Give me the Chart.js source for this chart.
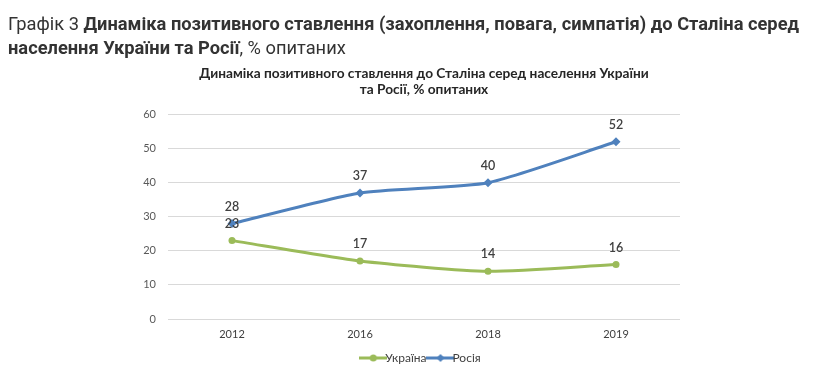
<!DOCTYPE html>
<html><head><meta charset="utf-8">
<script src="https://cdn.jsdelivr.net/npm/chart.js@4"></script>
<style>
html,body{margin:0;padding:0;background:#fff;}
#wrap{position:relative;width:816px;height:387px;overflow:hidden;}
#hdr{position:absolute;left:8px;top:12px;width:808px;font-family:Roboto,"Liberation Sans",sans-serif;font-size:18.3px;line-height:24px;color:#333;letter-spacing:0px;}
#hdr b{font-weight:bold;}
#c{position:absolute;left:0;top:0;}
</style></head>
<body><div id="wrap">
<canvas id="c" width="816" height="387"></canvas>
<div id="hdr">Графік 3 <b>Динаміка позитивного ставлення (захоплення, повага, симпатія) до Сталіна серед населення України та Росії</b>, % опитаних</div>
</div>
<script>
const categories = ['2012','2016','2018','2019'];
const ukraine = [23,17,14,16];
const russia = [28,37,40,52];
const yTicks = [0,10,20,30,40,50,60];

const GREEN = '#9bbb59', BLUE = '#4f81bd';
const FONT = 'Lato, "Open Sans", sans-serif';

function legendIcon(color, style){
  const c = document.createElement('canvas');
  c.width = 28; c.height = 10;
  const x = c.getContext('2d');
  x.strokeStyle = color; x.lineWidth = 3;
  x.beginPath(); x.moveTo(0,5); x.lineTo(28,5); x.stroke();
  x.fillStyle = color;
  x.beginPath();
  if(style==='diamond'){ x.moveTo(14,1); x.lineTo(18,5); x.lineTo(14,9); x.lineTo(10,5); x.closePath(); }
  else { x.arc(14,5,3.5,0,Math.PI*2); }
  x.fill();
  return c;
}

const labelPlugin = {
  id:'valueLabels',
  afterDatasetsDraw(chart){
    const ctx = chart.ctx;
    ctx.save();
    ctx.font = '600 12.5px ' + FONT;
    ctx.fillStyle = '#404040';
    ctx.textAlign = 'center';
    ctx.textBaseline = 'middle';
    chart.data.datasets.forEach((ds,i)=>{
      const meta = chart.getDatasetMeta(i);
      meta.data.forEach((pt,j)=>{
        ctx.fillText(String(ds.data[j]), pt.x, pt.y - 17);
      });
    });
    ctx.restore();
  }
};

new Chart(document.getElementById('c'), {
  type:'line',
  data:{
    labels: categories,
    datasets:[
      {label:'Україна', data: ukraine, borderColor: GREEN, backgroundColor: GREEN, borderWidth:3,
       pointStyle:'circle', pointRadius:3.5, pointHoverRadius:3.5, tension:0.2, pointBorderWidth:0},
      {label:'Росія', data: russia, borderColor: BLUE, backgroundColor: BLUE, borderWidth:3,
       pointStyle:'rectRot', pointRadius:4.5, pointHoverRadius:4.5, tension:0.2, pointBorderWidth:0}
    ]
  },
  options:{
    responsive:false, animation:false, events:[],
    layout:{padding:{left:100, right:136, top:66, bottom:13}},
    plugins:{
      title:{display:true, fullSize:false, text:['Динаміка позитивного ставлення до Сталіна серед населення України','та Росії, % опитаних'],
        color:'#262626', font:{family:FONT, size:13.7, weight:'bold', lineHeight:1.15}, padding:{top:0,bottom:17}},
      legend:{position:'bottom', fullSize:false, labels:{
        color:'#404040', font:{family:FONT, size:12}, boxWidth:28, boxHeight:10, padding:8, usePointStyle:true,
        generateLabels(chart){
          return chart.data.datasets.map((ds,i)=>({text:ds.label, pointStyle: legendIcon(ds.borderColor, i===1?'diamond':'circle'),
            fillStyle:ds.borderColor, strokeStyle:ds.borderColor, lineWidth:0, datasetIndex:i, fontColor:'#404040'}));
        }}},
      tooltip:{enabled:false}
    },
    scales:{
      x:{offset:true, afterFit(s){s.height=25;}, grid:{display:false, drawTicks:false}, border:{display:false},
         ticks:{color:'#404040', font:{family:FONT, size:11}, padding:9}},
      y:{min:0, max:60, afterFit(s){s.width=68;},
         afterBuildTicks(s){ s.ticks = yTicks.map(v=>({value:v})); },
         grid:{color:'#d9d9d9', lineWidth:1, drawTicks:false}, border:{display:false},
         ticks:{color:'#595959', font:{family:FONT, size:11}, padding:12}}
    }
  },
  plugins:[labelPlugin]
});
</script>
</body></html>
